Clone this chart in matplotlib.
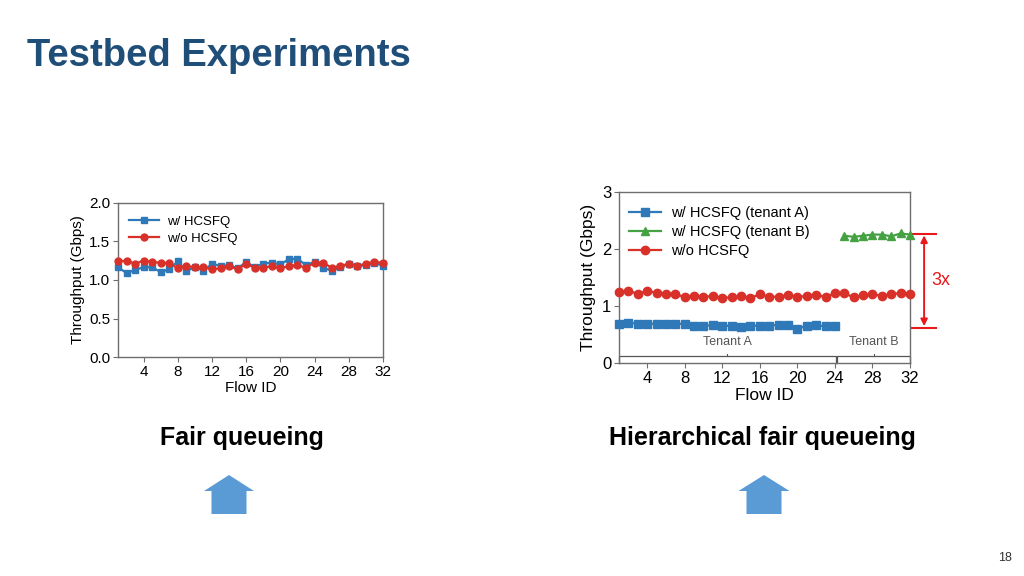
import matplotlib.pyplot as plt
from matplotlib.patches import Polygon

plt.rcParams['font.family'] = ['Liberation Sans', 'DejaVu Sans']

# --- data ---
flow_ids = list(range(1, 33))
fq_with = [1.165, 1.09, 1.13, 1.165, 1.165, 1.10, 1.14, 1.24, 1.11, 1.17, 1.12, 1.21,
           1.18, 1.19, 1.15, 1.23, 1.165, 1.21, 1.225, 1.20, 1.27, 1.275, 1.19, 1.235,
           1.157, 1.12, 1.165, 1.21, 1.18, 1.19, 1.225, 1.18]
fq_without = [1.24, 1.25, 1.21, 1.25, 1.235, 1.22, 1.22, 1.15, 1.18, 1.165, 1.165, 1.14,
              1.15, 1.175, 1.14, 1.21, 1.157, 1.157, 1.18, 1.15, 1.18, 1.19, 1.157, 1.225,
              1.225, 1.157, 1.18, 1.21, 1.18, 1.21, 1.235, 1.22]

tenant_a_ids = list(range(1, 25))
tenant_b_ids = list(range(25, 33))
hfq_tenant_a = [0.69, 0.70, 0.69, 0.68, 0.69, 0.69, 0.69, 0.68, 0.65, 0.65, 0.66, 0.65,
                0.65, 0.63, 0.65, 0.65, 0.65, 0.67, 0.66, 0.60, 0.65, 0.66, 0.64, 0.64]
hfq_tenant_b = [2.23, 2.21, 2.23, 2.25, 2.25, 2.22, 2.27, 2.25]
hfq_without = [1.245, 1.26, 1.215, 1.26, 1.23, 1.215, 1.21, 1.15, 1.18, 1.16, 1.17, 1.14,
               1.15, 1.17, 1.14, 1.20, 1.16, 1.16, 1.19, 1.15, 1.18, 1.19, 1.16, 1.22,
               1.22, 1.15, 1.19, 1.20, 1.18, 1.20, 1.23, 1.215]
ratio_top = 2.26
ratio_bottom = 0.62

x_ticks = [4, 8, 12, 16, 20, 24, 28, 32]
left_yticks = [0.0, 0.5, 1.0, 1.5, 2.0]
right_yticks = [0, 1, 2, 3]

BLUE = '#2f79b8'
RED = '#d8312a'
GREEN = '#45a243'
ARROW_BLUE = '#5b9bd5'
SPINE = '#6e6e6e'


def style_axes(ax, fs):
    for s in ax.spines.values():
        s.set_color(SPINE)
        s.set_linewidth(1.0)
    ax.tick_params(labelsize=fs, length=3.5, width=0.8, color=SPINE, pad=2)


def main():
    fig = plt.figure(figsize=(10.24, 5.76), dpi=100)

    # --- left chart: fair queueing ---
    ax1 = fig.add_axes([0.1152, 0.380, 0.2588, 0.268])
    ax1.plot(flow_ids, fq_with, '-s', color=BLUE, lw=1.6, ms=5, label='w/ HCSFQ',
             zorder=3, clip_on=False)
    ax1.plot(flow_ids, fq_without, '-o', color=RED, lw=1.6, ms=5, label='w/o HCSFQ',
             zorder=4, clip_on=False)
    ax1.set_xlim(1, 32)
    ax1.set_ylim(0, 2.0)
    ax1.set_xticks(x_ticks)
    ax1.set_yticks(left_yticks)
    ax1.set_yticklabels([f'{v:.1f}' for v in left_yticks])
    ax1.set_xlabel('Flow ID', fontsize=11, labelpad=1.5)
    ax1.set_ylabel('Throughput (Gbps)', fontsize=11, labelpad=3)
    style_axes(ax1, 11)
    ax1.legend(loc='upper left', bbox_to_anchor=(0.04, 0.915), frameon=False, fontsize=9.5,
               borderpad=0, borderaxespad=0, handlelength=2.3, handletextpad=0.6,
               labelspacing=0.35)

    # --- right chart: hierarchical fair queueing ---
    ax2 = fig.add_axes([0.6045, 0.370, 0.2842, 0.297])
    ax2.plot(tenant_a_ids, hfq_tenant_a, '-s', color=BLUE, lw=1.6, ms=5.5,
             label='w/ HCSFQ (tenant A)', zorder=3, clip_on=False)
    ax2.plot(tenant_b_ids, hfq_tenant_b, '-^', color=GREEN, lw=1.6, ms=5.5,
             label='w/ HCSFQ (tenant B)', zorder=3, clip_on=False)
    ax2.plot(flow_ids, hfq_without, '-o', color=RED, lw=1.6, ms=6,
             label='w/o HCSFQ', zorder=4, clip_on=False)
    ax2.set_xlim(1, 32)
    ax2.set_ylim(0, 3)
    ax2.set_xticks(x_ticks)
    ax2.set_yticks(right_yticks)
    ax2.set_xlabel('Flow ID', fontsize=12.5, labelpad=2)
    ax2.set_ylabel('Throughput (Gbps)', fontsize=12.5, labelpad=4)
    style_axes(ax2, 12)
    ax2.legend(loc='upper left', bbox_to_anchor=(0.035, 0.915), frameon=False, fontsize=10.5,
               borderpad=0, borderaxespad=0, handlelength=2.2, handletextpad=0.7,
               labelspacing=0.33)

    # tenant brackets
    for x0, x1, name in [(1.0, 24.1, 'Tenant A'), (24.25, 32.0, 'Tenant B')]:
        ax2.plot([x0, x0, x1, x1], [0.0, 0.12, 0.12, 0.0], color='#555555', lw=0.9,
                 clip_on=False, zorder=2)
        mid = (x0 + x1) / 2
        ax2.plot([mid, mid], [0.12, 0.16], color='#555555', lw=0.8, zorder=2)
        ax2.text(mid, 0.37, name, ha='center', va='center', fontsize=9, color='#555555')

    # 3x annotation
    for yv in (ratio_top, ratio_bottom):
        ax2.plot([32.2, 34.8], [yv, yv], color='#e8191c', lw=1.5, clip_on=False)
    ax2.annotate('', xy=(33.5, ratio_top), xytext=(33.5, ratio_bottom),
                 arrowprops=dict(arrowstyle='<|-|>', color='#e8191c', lw=1.4,
                                 shrinkA=1, shrinkB=1, mutation_scale=10),
                 annotation_clip=False)
    ax2.text(34.3, (ratio_top + ratio_bottom) / 2, '3x', fontsize=13, color='#e8191c',
             va='center', ha='left')

    # --- slide overlay in pixel coordinates ---
    ov = fig.add_axes([0, 0, 1, 1], zorder=-1)
    ov.set_xlim(0, 1024)
    ov.set_ylim(576, 0)
    ov.axis('off')

    ov.text(27, 66, 'Testbed Experiments', fontsize=27.5, fontweight='bold',
            color='#1f4e79', ha='left', va='baseline')
    ov.text(241.5, 438, 'Fair queueing', fontsize=18, fontweight='bold',
            ha='center', va='center')
    ov.text(762, 438, 'Hierarchical fair queueing', fontsize=18, fontweight='bold',
            ha='center', va='center')
    ov.text(1005, 558, '18', fontsize=9, color='#333333', ha='center', va='center')

    for cx, head_w, shaft_w in [(229, 50, 35), (764, 51, 35)]:
        pts = [(cx, 475), (cx + head_w / 2, 491), (cx + shaft_w / 2, 491),
               (cx + shaft_w / 2, 514), (cx - shaft_w / 2, 514), (cx - shaft_w / 2, 491),
               (cx - head_w / 2, 491)]
        ov.add_patch(Polygon(pts, closed=True, facecolor=ARROW_BLUE, edgecolor='none'))

    plt.savefig('out.png', dpi=100)


if __name__ == "__main__":
    main()
